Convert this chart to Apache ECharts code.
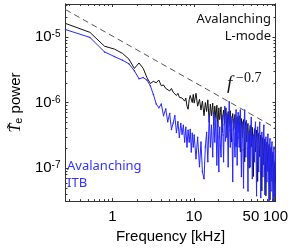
<!DOCTYPE html>
<html><head><meta charset="utf-8">
<script src="https://cdn.jsdelivr.net/npm/echarts@6/dist/echarts.min.js"></script>
<style>html,body{margin:0;padding:0;background:#fff}#c{width:291px;height:249px}</style>
</head><body><div id="c"></div>
<script>
// Frequency bins [kHz]
const freqs = [0.266,0.53,0.8,1.06,1.33,1.59,1.86,2.12,2.39,2.65,2.92,3.18,3.45,3.71,3.98,4.24,4.51,4.77,5.04,5.3,
5.57,5.83,6.1,6.36,6.63,6.89,7.16,7.42,7.69,7.95,8.22,8.48,8.75,9.01,9.28,9.54,9.81,10.07,10.6,11.1,
11.7,12.2,12.7,13.3,13.8,14.3,14.8,15.4,15.9,16.4,17,17.5,18,18.6,19.1,19.6,
20.2,20.45,20.7,21.1,21.5,21.9,22.3,22.7,23.1,23.5,23.9,24.3,24.7,25.1,25.5,25.9,26.3,26.7,27.1,27.5,
27.9,28.4,28.9,29.4,29.9,30.4,30.9,31.4,31.9,32.4,32.9,33.4,33.9,34.4,34.9,35.4,35.9,36.5,37.1,37.6,
38.2,38.7,39.3,39.9,40.6,41.2,41.9,42.5,43.2,43.9,44.6,45.3,46,46.7,47.5,48.2,49,49.7,50.5,51.2,
52,52.8,53.6,54.4,55.2,56,56.9,57.7,58.6,59.5,60.4,61.3,62.2,63.1,64.1,65,66,67,68,69,
70,71,72,73,74.1,75.2,76.3,77.4,78.5,79.6,80.8,82,83.2,84.4,85.6,86.8,88.1,89.3,90.6,91.9,
93.2,94.5,95.9,97.2,98.6,99.3,100];
// Avalanching L-mode (black)
const lmodePower = [1.6e-5,1.17e-5,7.2e-6,6.5e-6,5.6e-6,4.6e-6,3.3e-6,4.0e-6,3.3e-6,2.4e-6,1.95e-6,2.1e-6,2.0e-6,2.2e-6,1.8e-6,1.85e-6,1.64e-6,1.75e-6,1.5e-6,1.64e-6,
1.43e-6,1.48e-6,1.28e-6,1.38e-6,1.2e-6,1.28e-6,1.17e-6,1.25e-6,1.05e-6,1.17e-6,8.8e-7,7.9e-7,1.1e-6,1.28e-6,1.2e-6,1.0e-6,1.33e-6,9.8e-7,1.38e-6,8.8e-7,
1.12e-6,7.7e-7,1.05e-6,6.3e-7,1.0e-6,7.3e-7,1.1e-6,5.0e-7,9.5e-7,6.3e-7,9.8e-7,4.5e-7,8.8e-7,5.9e-7,9.1e-7,4.2e-7,
8.3e-7,6.0e-7,5.5e-7,7.0e-7,8.6e-7,4.6e-7,3.5e-7,6.4e-7,7.7e-7,5.6e-7,4.8e-7,6.9e-7,8.3e-7,4.4e-7,2.95e-7,6.2e-7,7.3e-7,5.3e-7,4.5e-7,6.6e-7,
7.5e-7,4.1e-7,2.5e-7,5.7e-7,6.8e-7,5.0e-7,4.0e-7,5.9e-7,6.6e-7,3.6e-7,2.1e-7,5.2e-7,6.1e-7,4.5e-7,3.5e-7,5.4e-7,6.3e-7,3.2e-7,1.77e-7,4.6e-7,
5.7e-7,4.0e-7,2.95e-7,4.8e-7,5.5e-7,3.0e-7,1.25e-7,4.2e-7,5.1e-7,3.4e-7,2.5e-7,4.3e-7,4.8e-7,2.6e-7,1.0e-7,3.7e-7,4.5e-7,3.0e-7,2.1e-7,3.5e-7,
4.2e-7,2.2e-7,7.5e-8,3.1e-7,4.0e-7,2.7e-7,1.77e-7,3.0e-7,3.8e-7,2.0e-7,6.3e-8,2.7e-7,3.4e-7,2.3e-7,1.49e-7,2.5e-7,3.2e-7,1.6e-7,4.5e-8,2.2e-7,
2.95e-7,1.9e-7,1.12e-7,2.1e-7,2.8e-7,1.3e-7,3.8e-8,1.8e-7,2.5e-7,1.6e-7,8.9e-8,1.7e-7,2.3e-7,1.0e-7,3.3e-8,1.5e-7,2.1e-7,1.2e-7,6.3e-8,1.4e-7,
1.77e-7,8.0e-8,3.0e-8,1.1e-7,1.25e-7,6.0e-8,8.9e-8];
// Avalanching ITB (blue)
const itbPower = [1.29e-5,9.8e-6,5.9e-6,5.0e-6,4.4e-6,3.9e-6,3.05e-6,2.3e-6,2.4e-6,2.2e-6,1.8e-6,1.33e-6,9.5e-7,8.3e-7,9.5e-7,6.3e-7,8.0e-7,5.1e-7,6.8e-7,3.9e-7,
4.9e-7,6.3e-7,3.5e-7,5.1e-7,2.95e-7,4.8e-7,3.3e-7,4.5e-7,2.5e-7,4.2e-7,2.1e-7,3.8e-7,2.5e-7,3.9e-7,1.77e-7,3.4e-7,2.1e-7,3.2e-7,1.4e-7,2.95e-7,
1.05e-7,2.5e-7,8.9e-8,6.9e-8,2.1e-7,3.5e-7,1.25e-7,6.3e-7,2.1e-7,4.5e-7,1.49e-7,7.0e-7,2.5e-7,5.9e-7,1.12e-7,5.0e-7,
8.9e-8,3.0e-7,4.2e-7,2.2e-7,1.49e-7,4.0e-7,6.3e-7,3.2e-7,1.25e-7,4.6e-7,8.6e-7,2.6e-7,2.95e-7,6.8e-7,5.9e-7,3.3e-7,1.05e-7,4.3e-7,1.03e-6,3.8e-7,
2.1e-7,6.1e-7,5.0e-7,2.7e-7,6.3e-8,3.9e-7,5.5e-7,2.4e-7,1.49e-7,5.2e-7,7.7e-7,3.1e-7,1.12e-7,4.6e-7,7.0e-7,2.9e-7,2.1e-7,5.6e-7,7.7e-7,2.4e-7,
7.5e-8,3.6e-7,5.0e-7,1.9e-7,5.0e-8,4.1e-7,7.7e-7,3.5e-7,1.49e-7,5.3e-7,4.5e-7,2.0e-7,4.5e-8,3.2e-7,3.5e-7,1.6e-7,1.05e-7,4.0e-7,5.9e-7,2.5e-7,
7.0e-8,2.9e-7,3.2e-7,1.7e-7,1.25e-7,3.8e-7,5.0e-7,2.1e-7,3.8e-8,2.6e-7,4.2e-7,1.8e-7,8.9e-8,3.4e-7,5.0e-7,1.9e-7,3.6e-8,2.3e-7,3.5e-7,1.4e-7,
7.5e-8,3.1e-7,4.5e-7,1.5e-7,4.0e-8,2.1e-7,2.95e-7,1.1e-7,6.3e-8,2.4e-7,3.3e-7,1.2e-7,3.2e-8,1.9e-7,2.8e-7,9.0e-8,4.5e-8,2.0e-7,2.5e-7,7.0e-8,
3.1e-8,1.6e-7,2.1e-7,6.0e-8,3.8e-8,1.3e-7,1.77e-7];
// f^-0.7 reference line (end points)
const slopeFreqs = [0.266, 100];
const slopePower = [2.6e-5, 4.1e-7];
// Ticks
const xTickLabels = [1, 10, 50, 100];
const xMajorTicks = [1, 10, 100];
const xMinorTicks = [0.3,0.4,0.5,0.6,0.7,0.8,0.9,2,3,4,5,6,7,8,9,20,30,40,50,60,70,80,90];
const yTickLabels = [1e-7, 1e-6, 1e-5];
const yMinorTicks = [4e-8,5e-8,6e-8,7e-8,8e-8,9e-8,2e-7,3e-7,4e-7,5e-7,6e-7,7e-7,8e-7,9e-7,2e-6,3e-6,4e-6,5e-6,6e-6,7e-6,8e-6,9e-6,2e-5,3e-5];

const X_MIN = 0.266, X_MAX = 100, Y_MIN = 3.16e-8, Y_MAX = 3.16e-5;
const AX = '#333';
const SANS = 'Liberation Sans';

function pairs(xs, ys) { return xs.map((x, i) => [x, ys[i]]); }

function xAx(pos, ticks, len, extra) {
  return Object.assign({
    type: 'log', min: X_MIN, max: X_MAX, position: pos, gridIndex: 0,
    axisLine: { show: true, onZero: false, lineStyle: { color: AX, width: 1 } },
    axisTick: { show: true, inside: true, length: len, customValues: ticks, lineStyle: { color: AX } },
    axisLabel: { show: false }, splitLine: { show: false }, minorTick: { show: false }
  }, extra || {});
}
function yAx(pos, ticks, len, extra) {
  return Object.assign({
    type: 'log', min: Y_MIN, max: Y_MAX, position: pos, gridIndex: 0,
    axisLine: { show: true, onZero: false, lineStyle: { color: AX, width: 1 } },
    axisTick: { show: true, inside: true, length: len, customValues: ticks, lineStyle: { color: AX } },
    axisLabel: { show: false }, splitLine: { show: false }, minorTick: { show: false }
  }, extra || {});
}

const chart = echarts.init(document.getElementById('c'), null, { renderer: 'canvas' });
chart.setOption({
  animation: false,
  backgroundColor: '#fff',
  grid: { left: 55, right: 13, top: 4, bottom: 44, containLabel: false },
  xAxis: [
    xAx('bottom', xMajorTicks, 3, {
      axisLabel: { show: true, customValues: xTickLabels, margin: 8, fontSize: 15, fontFamily: SANS, color: '#000',
        formatter: v => String(Math.round(v)) },
      name: 'Frequency [kHz]', nameLocation: 'middle', nameGap: 27,
      nameTextStyle: { fontSize: 15, fontFamily: SANS, color: '#000' }
    }),
    xAx('bottom', xMinorTicks, 2),
    xAx('top', xMajorTicks, 3),
    xAx('top', xMinorTicks, 2)
  ],
  yAxis: [
    yAx('left', yTickLabels, 3, {
      axisLabel: { show: true, customValues: yTickLabels, margin: 5, color: '#000',
        formatter: v => '{b|10}{s|' + Math.round(Math.log10(v)) + '}',
        rich: {
          b: { fontSize: 15, fontFamily: SANS, color: '#000', verticalAlign: 'bottom' },
          s: { fontSize: 10, fontFamily: SANS, color: '#000', verticalAlign: 'top' }
        } },
      name: '{t|T\u0303}{e|e} power', nameLocation: 'middle', nameGap: 36, nameRotate: 90,
      nameTextStyle: { fontSize: 15, fontFamily: SANS, color: '#000',
        rich: {
          t: { fontSize: 16, fontFamily: 'Liberation Serif', fontStyle: 'italic', color: '#000', verticalAlign: 'bottom' },
          e: { fontSize: 11, fontFamily: SANS, color: '#000', verticalAlign: 'bottom' }
        } }
    }),
    yAx('left', yMinorTicks, 2),
    yAx('right', yTickLabels, 3),
    yAx('right', yMinorTicks, 2)
  ],
  series: [
    { name: 'Avalanching L-mode', type: 'line', xAxisIndex: 0, yAxisIndex: 0, data: pairs(freqs, lmodePower),
      symbol: 'none', clip: true, lineStyle: { color: '#111', width: 1 }, z: 2 },
    { name: 'Avalanching ITB', type: 'line', xAxisIndex: 0, yAxisIndex: 0, data: pairs(freqs, itbPower),
      symbol: 'circle', symbolSize: 1.5, showSymbol: true, clip: true,
      itemStyle: { color: '#2626ff' }, lineStyle: { color: '#2626ff', width: 1 }, z: 3 },
    { name: 'f^-0.7', type: 'line', xAxisIndex: 0, yAxisIndex: 0, data: pairs(slopeFreqs, slopePower),
      symbol: 'none', clip: true, lineStyle: { color: '#555', width: 1, type: [6, 4] }, z: 4 }
  ],
  graphic: [
    { type: 'text', right: 20, top: 13, style: { text: 'Avalanching', fill: '#111', font: '13px "Noto Sans"' } },
    { type: 'text', right: 20, top: 30, style: { text: 'L-mode', fill: '#111', font: '13px "Noto Sans"' } },
    { type: 'text', left: 67, top: 160, style: { text: 'Avalanching', fill: '#3333ff', font: '13px "Noto Sans"' } },
    { type: 'text', left: 67, top: 177, style: { text: 'ITB', fill: '#3333ff', font: '13px "Noto Sans"' } },
    { type: 'text', left: 227, top: 74, style: { text: 'f', fill: '#111', font: 'italic 19px "Liberation Serif"' } },
    { type: 'text', left: 236, top: 71, style: { text: '\u22120.7', fill: '#111', font: '14px "Liberation Serif"' } }
  ]
});
</script>
</body></html>
